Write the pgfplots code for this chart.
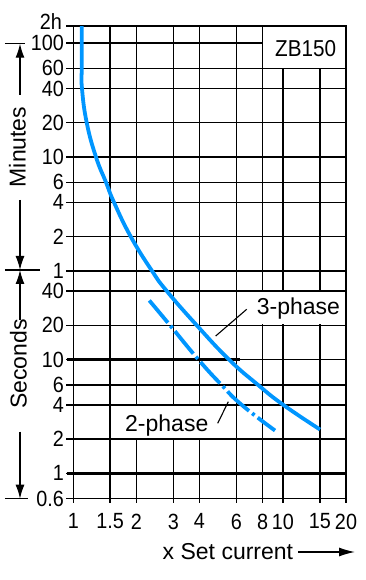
\documentclass[border=0pt]{standalone}
\usepackage{fontspec}
\setmainfont{Liberation Sans}
\newfontfamily\cond[FakeStretch=0.9]{Liberation Sans}
\usepackage{pgfplots}
\pgfplotsset{compat=1.18}
\usetikzlibrary{arrows.meta}
\definecolor{curveblue}{RGB}{0,150,255}
\newcommand\cf{\cond\fontsize{22}{25}\selectfont}
\newcommand\zf{\cond\fontsize{23}{26}\selectfont}
\newcommand\nf{\fontsize{23}{26}\selectfont}
\begin{document}
\begin{tikzpicture}[x=1pt,y=1pt]
\useasboundingbox (-73.3,-81.3) rectangle (291.7,498.7);
\begin{axis}[
  scale only axis, width=272.7pt, height=472.7pt,
  xmode=log, ymode=log,
  xmin=1, xmax=20, ymin=0.6, ymax=8480,
  xtick={1,1.5,2,3,4,6,8,10,15,20},
  xticklabels={1,1.5,2,3,4,6,8,10,15,20},
  ytick={0.6,1,2,4,6,10,20,40,60,120,240,360,600,1200,2400,3600,6000,8480},
  yticklabels={0.6,1,2,4,6,10,20,40,1,2,4,6,10,20,40,60,100,{}},
  minor xtick={}, minor ytick={},
  grid=major,
  major grid style={black, line width=1.45pt},
  axis line style={black, line width=1.45pt},
  tick style={black, line width=1.45pt},
  tick align=outside,
  xtick pos=left, ytick pos=left,
  xtick style={/pgfplots/major tick length=4pt},
  ytick style={/pgfplots/major tick length=7pt},
  /pgf/number format/assume math mode=true,
  xticklabel style={font=\cf, anchor=north, inner sep=0pt, yshift=-10.5pt},
  yticklabel style={font=\cf, anchor=east, inner sep=0pt, xshift=-5pt},
  clip=false,
]
% white label boxes
\fill[white] (axis cs:8.07,3660) rectangle (axis cs:19.83,8344);
\fill[white] (axis cs:7.0,20.33) rectangle (axis cs:19.83,39.36);
\fill[white] (axis cs:1.634,2.033) rectangle (axis cs:4.59,3.936);
% bold lines
\draw[black, line width=2.3pt] ([xshift=-6.6pt]axis cs:1,10) -- (axis cs:6.24,10);
\draw[black, line width=2.3pt] ([xshift=-6.6pt]axis cs:1,1) -- (axis cs:20,1);
% 3-phase
\addplot[curveblue, line width=3.8pt, smooth, tension=0.8] coordinates {
  (1.097,8480) (1.097,6000) (1.097,3600) (1.10,2400) (1.159,1200)
  (1.283,600) (1.432,360) (1.564,240) (1.88,120) (2.374,60)
  (2.79,40) (3.88,20) (5.53,10) (7.6,6) (10.04,4) (15.03,2.43)
};
% 2-phase
\addplot[curveblue, line width=3.8pt, smooth, tension=0.8,
  dash pattern=on 29pt off 4pt on 3pt off 4pt] coordinates {
  (2.305,33.0) (2.893,20) (3.95,10) (5.09,6) (6.36,4) (9.17,2.38)
};
\end{axis}
% top tick label
\node[anchor=east, inner sep=0pt, font=\cf] at (-11.3,477) {2h};
% labels inside chart
\node[anchor=base west, inner sep=0pt, font=\zf] at (201.7,442) {ZB150};
\node[anchor=base west, inner sep=0pt, font=\nf] at (183.4,183.7) {3-phase};
\node[anchor=base west, inner sep=0pt, font=\nf] at (51.7,67) {2-phase};
\draw[line width=1.1pt] (173.4,189.4) -- (142.4,162.7);
\draw[line width=1.1pt] (155,97) -- (144.4,75.4);
% left annotations
\draw[line width=1.3pt] (-68.3,455) -- (-48.3,455);
\draw[line width=1.3pt, -{Latex[length=14pt,width=9pt]}] (-53.3,403.7) -- (-53.3,455);
\node[rotate=90, inner sep=0pt, font=\nf] at (-55.8,351.7) {Minutes};
\draw[line width=1.3pt, -{Latex[length=14pt,width=9pt]}] (-53.3,298.7) -- (-53.3,228.7);
\draw[line width=1.3pt] (-68.3,228.7) -- (-33.3,228.7);
\draw[line width=1.3pt, -{Latex[length=14pt,width=9pt]}] (-53.3,178.7) -- (-53.3,228.7);
\node[rotate=90, inner sep=0pt, font=\nf] at (-55,134.7) {Seconds};
\draw[line width=1.3pt, -{Latex[length=14pt,width=9pt]}] (-53.3,67) -- (-53.3,0);
\draw[line width=1.3pt] (-68.3,0) -- (-45.3,0);
% x label
\node[anchor=east, inner sep=0pt, font=\nf] at (220,-53) {x Set current};
\draw[line width=1.3pt, -{Latex[length=16pt,width=9pt]}] (224.7,-53.3) -- (281.7,-53.3);
\end{tikzpicture}
\end{document}
